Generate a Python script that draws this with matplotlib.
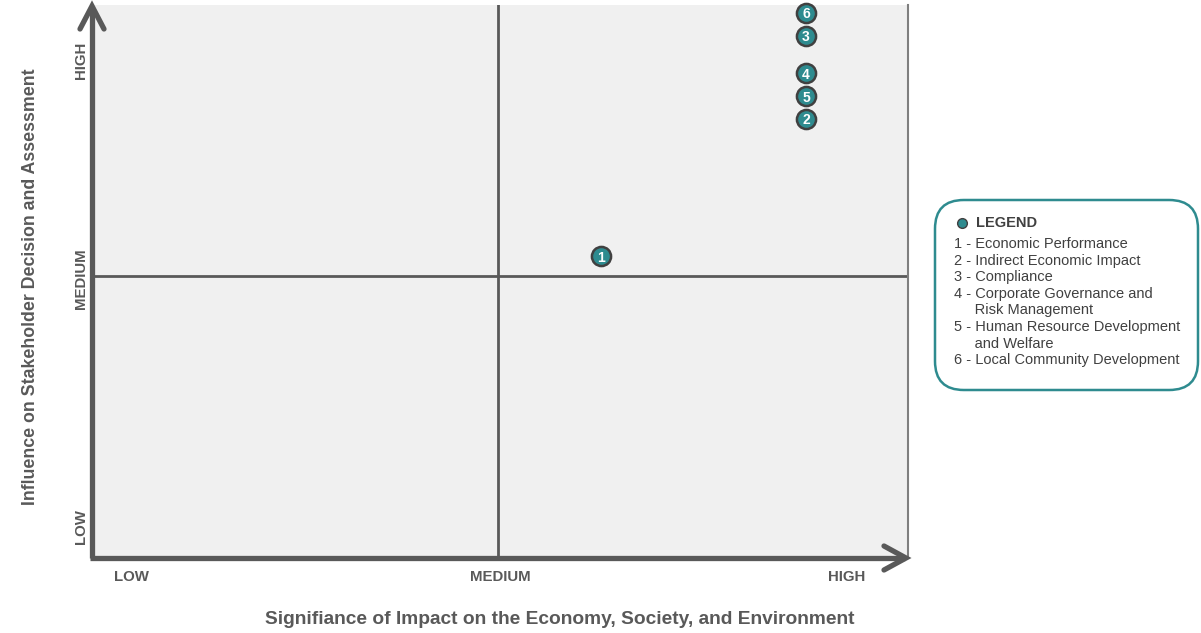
import matplotlib.pyplot as plt
from matplotlib.patches import FancyBboxPatch

plt.rcParams['font.family'] = ['Liberation Sans', 'DejaVu Sans']

# material topics: number, impact (x), influence (y) on a 0-10 scale
topic_ids = ["1", "2", "3", "4", "5", "6"]
impact = [6.24, 8.75, 8.75, 8.75, 8.75, 8.75]
influence = [5.46, 7.94, 9.44, 8.77, 8.35, 9.86]
level_labels = ["LOW", "MEDIUM", "HIGH"]
x_level_pos = [0.48, 5.0, 9.25]
y_level_pos = [0.56, 5.05, 9.0]
legend_items = ["1 - Economic Performance",
                "2 - Indirect Economic Impact",
                "3 - Compliance",
                "4 - Corporate Governance and",
                "     Risk Management",
                "5 - Human Resource Development",
                "     and Welfare",
                "6 - Local Community Development"]

W, H = 1201, 633
gray = "#595959"
teal = "#2e8b8f"

fig = plt.figure(figsize=(W / 100, H / 100), dpi=100)
ax = fig.add_axes([92 / W, (H - 558) / H, 816 / W, 553 / H])
ax.set_xlim(0, 10)
ax.set_ylim(0, 10)
ax.set_facecolor("#f0f0f0")
for s in ax.spines.values():
    s.set_visible(False)
ax.set_xticks([])
ax.set_yticks([])

px = 10 / 816
py = 10 / 553

# quadrant lines
ax.axvline(4.97, color=gray, lw=2)
ax.axhline(5.1, color=gray, lw=2)
ax.plot([10, 10], [0, 10], color="#7f7f7f", lw=1.5, clip_on=False)

# axes with arrows
ax.plot([0, 0], [0, 10 - 3 * py], color=gray, lw=3.8, clip_on=False, solid_capstyle="butt")
ax.plot([-12 * px, 0, 12 * px], [10 - 24 * py, 10 - 1 * py, 10 - 24 * py],
        color=gray, lw=3.8, clip_on=False, solid_capstyle="round", solid_joinstyle="miter")
ax.plot([-2 * px, 10 - 3 * px], [0, 0], color=gray, lw=3.8, clip_on=False, solid_capstyle="butt")
ax.plot([10 - 24 * px, 10 - 2 * px, 10 - 24 * px], [12 * py, 0, -12 * py],
        color=gray, lw=3.8, clip_on=False, solid_capstyle="round", solid_joinstyle="miter")

# points
ax.scatter(impact, influence, s=190, color=teal, edgecolor="#404040", linewidth=1.8,
           zorder=5, clip_on=False)
for t, x, y in zip(topic_ids, impact, influence):
    ax.text(x, y, t, color="white", fontsize=10, fontweight="bold",
            ha="center", va="center_baseline", zorder=6)

# level labels
for lab, xp in zip(level_labels, x_level_pos):
    ax.text(xp, -19 * py, lab, color=gray, fontsize=10.8, fontweight="bold",
            ha="center", va="center", clip_on=False)
for lab, yp in zip(level_labels, y_level_pos):
    ax.text(-11 * px, yp, lab, color=gray, fontsize=10.8, fontweight="bold",
            ha="center", va="center", rotation=90, clip_on=False)

ax.text(5.73, -61 * py, "Signifiance of Impact on the Economy, Society, and Environment",
        color=gray, fontsize=13.8, fontweight="bold", ha="center", va="center", clip_on=False)
fig.text(31 / W, 1 - 287 / H, "Influence on Stakeholder Decision and Assessment",
         color=gray, fontsize=12.8, fontweight="bold", ha="center", va="center", rotation=90)

# legend box
box = FancyBboxPatch((935 / W, 1 - 390 / H), 263 / W, 190 / H,
                     boxstyle="round,pad=0,rounding_size=0.024", transform=fig.transFigure,
                     facecolor="white", edgecolor=teal, lw=1.8, mutation_aspect=W / H)
fig.patches.append(box)
fig.lines.append(plt.Line2D([962 / W], [1 - 223 / H], marker="o", markersize=7,
                            color=teal, markeredgecolor="#404040", transform=fig.transFigure))
fig.text(976 / W, 1 - 223 / H, "LEGEND", color="#404040", fontsize=10.5,
         fontweight="bold", ha="left", va="center")
for i, item in enumerate(legend_items):
    fig.text(954 / W, 1 - (244 + i * 16.6) / H, item, color="#404040", fontsize=10.5,
             ha="left", va="center")

fig.savefig("out.png", dpi=100)
